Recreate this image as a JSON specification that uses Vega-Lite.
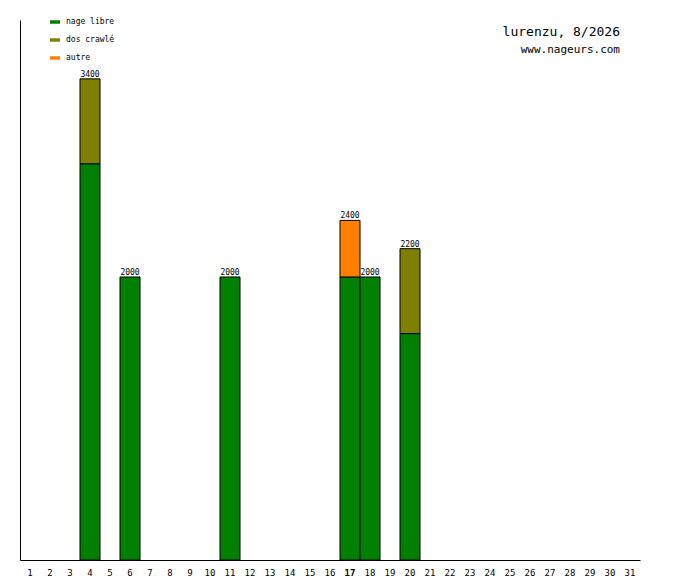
{
  "$schema": "https://vega.github.io/schema/vega-lite/v6.json",
  "width": 620,
  "height": 540,
  "autosize": "none",
  "padding": {"left": 20, "top": 20, "right": 40, "bottom": 20},
  "background": "white",
  "config": {"view": {"stroke": null}, "font": "DejaVu Sans Mono"},
  "title": {
    "text": "lurenzu, 8/2026",
    "subtitle": "www.nageurs.com",
    "anchor": "end",
    "orient": "top",
    "offset": -38,
    "fontSize": 13,
    "fontWeight": "normal",
    "subtitleFontSize": 11,
    "subtitlePadding": 5,
    "font": "DejaVu Sans Mono",
    "subtitleFont": "DejaVu Sans Mono",
    "dx": -20
  },
  "data": {
    "values": [
      {"day": 4, "type": "nage libre", "m": 2800, "o": 0},
      {"day": 4, "type": "dos crawlé", "m": 600, "o": 1},
      {"day": 6, "type": "nage libre", "m": 2000, "o": 0},
      {"day": 11, "type": "nage libre", "m": 2000, "o": 0},
      {"day": 17, "type": "nage libre", "m": 2000, "o": 0},
      {"day": 17, "type": "autre", "m": 400, "o": 2},
      {"day": 18, "type": "nage libre", "m": 2000, "o": 0},
      {"day": 20, "type": "nage libre", "m": 1600, "o": 0},
      {"day": 20, "type": "dos crawlé", "m": 600, "o": 1}
    ]
  },
  "encoding": {
    "x": {
      "field": "day",
      "type": "ordinal",
      "scale": {"domain": [1,2,3,4,5,6,7,8,9,10,11,12,13,14,15,16,17,18,19,20,21,22,23,24,25,26,27,28,29,30,31], "paddingInner": 0, "paddingOuter": 0},
      "axis": {
        "title": null,
        "labelAngle": 0,
        "ticks": false,
        "labelFontSize": 9,
        "labelPadding": 8,
        "labelFontWeight": {"condition": {"test": "datum.value == 17", "value": "bold"}, "value": "normal"},
        "labelFont": "DejaVu Sans Mono",
        "domainColor": "black",
        "labelColor": "black"
      }
    }
  },
  "layer": [
    {
      "mark": {"type": "bar", "stroke": "black", "strokeWidth": 1},
      "encoding": {
        "y": {
          "field": "m",
          "type": "quantitative",
          "stack": "zero",
          "scale": {"domain": [0, 3816], "nice": false},
          "axis": {"title": null, "labels": false, "ticks": false, "grid": false, "domainColor": "black"}
        },
        "order": {"field": "o"},
        "color": {
          "field": "type",
          "type": "nominal",
          "scale": {"domain": ["nage libre", "dos crawlé", "autre"], "range": ["#008000", "#808000", "#ff8000"]},
          "legend": {
            "title": null,
            "orient": "none",
            "legendX": 30,
            "legendY": -3,
            "symbolType": "M-1,-0.35H1V0.35H-1Z",
            "symbolSize": 100,
            "symbolStrokeWidth": 0,
            "symbolOpacity": 1,
            "labelFontSize": 8,
            "labelFont": "DejaVu Sans Mono",
            "rowPadding": 9,
            "labelOffset": 6
          }
        }
      }
    },
    {
      "mark": {"type": "text", "dy": -4, "fontSize": 8, "font": "DejaVu Sans Mono", "color": "black"},
      "encoding": {
        "y": {"aggregate": "sum", "field": "m", "type": "quantitative"},
        "text": {"aggregate": "sum", "field": "m", "type": "quantitative"}
      }
    }
  ]
}
